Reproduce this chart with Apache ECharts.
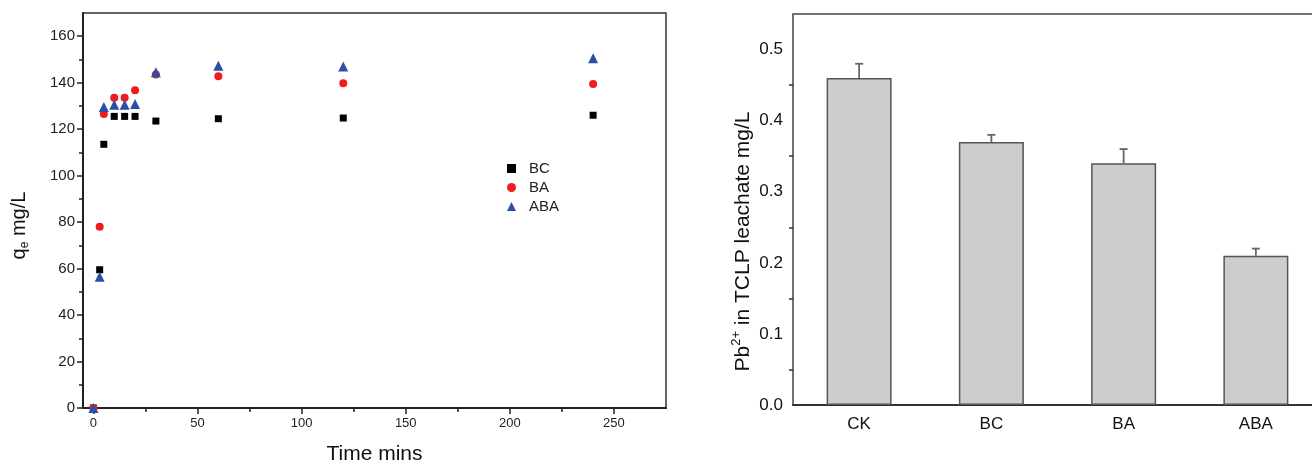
<!DOCTYPE html>
<html>
<head>
<meta charset="utf-8">
<script src="https://cdn.jsdelivr.net/npm/echarts@6/dist/echarts.min.js"></script>
<style>
  html, body { margin: 0; padding: 0; background: #fff; }
  #main { width: 1312px; height: 462px; }
</style>
</head>
<body>
<div id="main"></div>
<script>
// left panel: adsorption kinetics
const times = [0, 3, 5, 10, 15, 20, 30, 60, 120, 240];
const bcQe = [0, 59.5, 113.5, 125.5, 125.5, 125.5, 123.5, 124.5, 124.8, 126];
const baQe = [0, 78, 126.5, 133.5, 133.5, 136.8, 143.5, 142.8, 139.8, 139.4];
const abaQe = [0, 56.5, 129.5, 130.5, 130.5, 130.8, 144.5, 147.3, 147, 150.5];
const timeTicks = [0, 50, 100, 150, 200, 250];
const timeMinor = [25, 75, 125, 175, 225];
const qeTicks = [0, 20, 40, 60, 80, 100, 120, 140, 160];
const qeMinor = [10, 30, 50, 70, 90, 110, 130, 150];

// right panel: TCLP leachate
const leachCats = ['CK', 'BC', 'BA', 'ABA'];
const leachMean = [0.46, 0.37, 0.34, 0.21];
const leachErr = [0.02, 0.01, 0.02, 0.01];

const font = 'Liberation Sans, Arial, sans-serif';
const axisColor = '#222';
const pair = arr => times.map((t, i) => [t, arr[i]]);

const chart = echarts.init(document.getElementById('main'));

const option = {
  animation: false,
  textStyle: { fontFamily: font },
  grid: [
    {
      left: 83, top: 13, width: 583, height: 395,
      outerBoundsMode: 'none',
      show: true, borderColor: '#333', borderWidth: 1.5,
    },
    {
      left: 793, top: 14, width: 529, height: 391,
      outerBoundsMode: 'none',
      show: true, borderColor: '#444', borderWidth: 1.5,
    },
  ],
  legend: {
    left: 502,
    top: 156,
    orient: 'vertical',
    itemWidth: 9,
    itemHeight: 9,
    itemGap: 4,
    textStyle: { fontSize: 15, color: '#222', fontFamily: font, padding: [0, 0, 0, 8] },
    data: ['BC', 'BA', 'ABA'],
  },
  xAxis: [
    {
      gridIndex: 0,
      type: 'value',
      min: -5,
      max: 275,
      name: 'Time mins',
      nameLocation: 'middle',
      nameGap: 36,
      nameTextStyle: { fontSize: 21, color: '#111', fontFamily: font },
      axisLine: { onZero: false, lineStyle: { color: axisColor, width: 2 } },
      axisTick: { customValues: timeTicks, length: 6, lineStyle: { color: axisColor, width: 1.5 } },
      axisLabel: { customValues: timeTicks, fontSize: 13, color: '#222', margin: 9 },
      splitLine: { show: false },
    },
    {
      gridIndex: 0,
      type: 'value',
      position: 'bottom',
      min: -5,
      max: 275,
      axisLine: { show: false, onZero: false },
      axisTick: { customValues: timeMinor, length: 4, lineStyle: { color: axisColor, width: 1.5 } },
      axisLabel: { show: false },
      splitLine: { show: false },
    },
    {
      gridIndex: 1,
      type: 'category',
      data: leachCats,
      axisLine: { lineStyle: { color: '#333', width: 2 } },
      axisTick: { alignWithLabel: true, length: 6, lineStyle: { color: '#333', width: 1.5 } },
      axisLabel: { fontSize: 17, color: '#111', margin: 11 },
    },
    {
      gridIndex: 1,
      type: 'category',
      position: 'bottom',
      data: leachCats,
      axisLine: { show: false },
      axisTick: { length: 4, lineStyle: { color: '#333', width: 1.5 } },
      axisLabel: { show: false },
    },
  ],
  yAxis: [
    {
      gridIndex: 0,
      type: 'value',
      min: 0,
      max: 170,
      name: '{a|q}{sub|e}{a| mg/L}',
      nameLocation: 'middle',
      nameGap: 52,
      nameTextStyle: {
        padding: [0, 30, 0, 0],
        rich: {
          a: { fontSize: 20, color: '#111', fontFamily: font, lineHeight: 24 },
          sub: { fontSize: 12, color: '#111', fontFamily: font, verticalAlign: 'bottom', lineHeight: 14 },
        },
      },
      axisLine: { onZero: false, lineStyle: { color: axisColor, width: 2 } },
      axisTick: { customValues: qeTicks, length: 6, lineStyle: { color: axisColor, width: 1.5 } },
      axisLabel: { customValues: qeTicks, fontSize: 15, color: '#222', margin: 8 },
      splitLine: { show: false },
    },
    {
      gridIndex: 0,
      type: 'value',
      position: 'left',
      min: 0,
      max: 170,
      axisLine: { show: false, onZero: false },
      axisTick: { customValues: qeMinor, length: 4, lineStyle: { color: axisColor, width: 1.5 } },
      axisLabel: { show: false },
      splitLine: { show: false },
    },
    {
      gridIndex: 1,
      type: 'value',
      min: 0,
      max: 0.55,
      interval: 0.1,
      name: '{a|Pb}{sup|2+}{a| in TCLP leachate mg/L}',
      nameLocation: 'middle',
      nameGap: 37,
      nameTextStyle: {
        padding: [0, 64, 0, 0],
        rich: {
          a: { fontSize: 21, color: '#111', fontFamily: font, lineHeight: 26 },
          sup: { fontSize: 13, color: '#111', fontFamily: font, verticalAlign: 'top', lineHeight: 14 },
        },
      },
      axisLine: { onZero: false, lineStyle: { color: '#333', width: 2 } },
      axisTick: { length: 7, lineStyle: { color: '#333', width: 1.5 } },
      minorTick: { show: true, splitNumber: 2, length: 4, lineStyle: { color: '#333', width: 1.5 } },
      axisLabel: {
        fontSize: 17,
        color: '#111',
        margin: 10,
        showMaxLabel: false,
        formatter: v => v.toFixed(1),
      },
      splitLine: { show: false },
    },
  ],
  series: [
    {
      name: 'BC',
      type: 'scatter',
      xAxisIndex: 0,
      yAxisIndex: 0,
      symbol: 'rect',
      symbolSize: 7,
      itemStyle: { color: '#000', opacity: 1 },
      data: pair(bcQe),
    },
    {
      name: 'BA',
      type: 'scatter',
      xAxisIndex: 0,
      yAxisIndex: 0,
      symbol: 'circle',
      symbolSize: 8,
      itemStyle: { color: '#ee1c1c', opacity: 1 },
      data: pair(baQe),
    },
    {
      name: 'ABA',
      type: 'scatter',
      xAxisIndex: 0,
      yAxisIndex: 0,
      symbol: 'triangle',
      symbolSize: 10,
      itemStyle: { color: '#2d4ea6', opacity: 1 },
      data: pair(abaQe),
    },
    {
      name: 'leachate',
      type: 'bar',
      xAxisIndex: 2,
      yAxisIndex: 2,
      barWidth: 65,
      itemStyle: { color: '#cdcdcd', borderColor: '#555', borderWidth: 1.5 },
      data: leachMean,
    },
    {
      name: 'err',
      type: 'custom',
      xAxisIndex: 2,
      yAxisIndex: 2,
      z: 5,
      data: leachCats.map((c, i) => [i, leachMean[i], leachErr[i]]),
      renderItem: (params, api) => {
        const base = api.coord([api.value(0), api.value(1)]);
        const top = api.coord([api.value(0), api.value(1) + api.value(2)]);
        const style = { stroke: '#666', lineWidth: 1.8 };
        return {
          type: 'group',
          children: [
            { type: 'line', shape: { x1: base[0], y1: base[1], x2: top[0], y2: top[1] }, style },
            { type: 'line', shape: { x1: top[0] - 4, y1: top[1], x2: top[0] + 4, y2: top[1] }, style },
          ],
        };
      },
    },
  ],
};

chart.setOption(option);
</script>
</body>
</html>
